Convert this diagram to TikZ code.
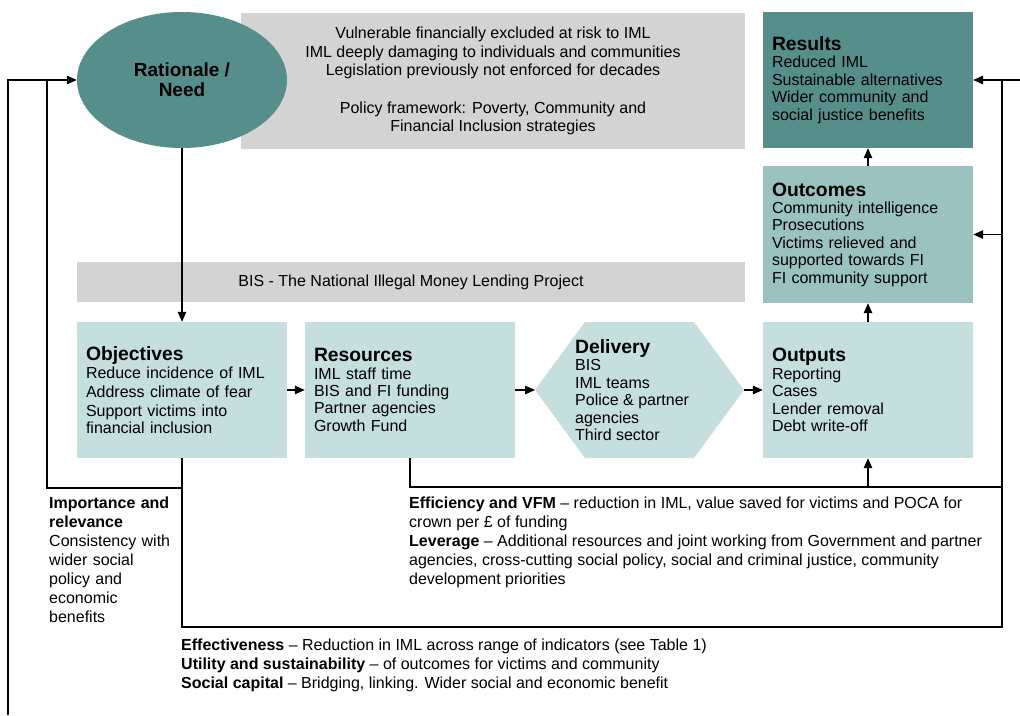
\documentclass[tikz,border=0pt]{standalone}
\usepackage{fontspec}
\setmainfont{Liberation Sans}
\usetikzlibrary{arrows.meta,shapes.geometric}
\definecolor{darkteal}{RGB}{86,142,140}
\definecolor{midteal}{RGB}{153,194,193}
\definecolor{lightteal}{RGB}{197,222,222}
\definecolor{boxgray}{RGB}{211,211,211}
\newcommand{\bodyfont}{\fontsize{16}{17.4}\selectfont}
\newcommand{\headfont}{\fontsize{19.3}{19}\selectfont\bfseries}
\begin{document}
\begin{tikzpicture}[x=1pt,y=-1pt,
  box/.style={rectangle, minimum width=210pt, minimum height=136pt, inner xsep=9pt, inner ysep=0pt, text width=192pt, align=left, font=\bodyfont},
  graybox/.style={rectangle, fill=boxgray, inner sep=0pt, font=\bodyfont},
  arr/.style={line width=1.3pt, -{Triangle[length=10pt,width=8.5pt]}},
  ln/.style={line width=1.3pt},
  note/.style={anchor=north west, inner sep=0pt, align=left, font=\fontsize{16}{19}\selectfont}
]
\useasboundingbox (0,0) rectangle (1020,715);

% top gray box and ellipse
\node[graybox, minimum width=504pt, minimum height=136pt, align=center, font=\fontsize{16}{18.6}\selectfont] (context) at (493,81)
  {Vulnerable financially excluded at risk to IML\\
   IML deeply damaging to individuals and communities\\
   Legislation previously not enforced for decades\\[18.6pt]
   Policy framework: Poverty, Community and\\
   Financial Inclusion strategies};
\node[ellipse, fill=darkteal, minimum width=210pt, minimum height=136pt, inner sep=0pt, align=center, font=\fontsize{19}{20}\selectfont\bfseries] (rationale) at (182,80) {Rationale /\\Need};

% BIS bar
\node[graybox, minimum width=668pt, minimum height=40pt] (bis) at (411,282) {BIS - The National Illegal Money Lending Project};

% right column
\node[box, fill=darkteal] (results) at (868,80)
  {{\headfont Results}\\Reduced IML\\Sustainable alternatives\\Wider community and\\social justice benefits};
\node[box, fill=midteal, minimum height=137pt] (outcomes) at (868,234.5)
  {{\headfont Outcomes}\\Community intelligence\\Prosecutions\\Victims relieved and\\supported towards FI\\FI community support};

% middle row
\node[box, fill=lightteal] (objectives) at (182,390)
  {{\headfont Objectives}\\[-1pt]{\fontsize{16}{19}\selectfont Reduce incidence of IML\\Address climate of fear\\Support victims into\\financial inclusion}};
\node[box, fill=lightteal] (resources) at (410,390)
  {{\headfont Resources}\\IML staff time\\BIS and FI funding\\Partner agencies\\Growth Fund};
\node[box, fill=lightteal] (outputs) at (868,390)
  {{\headfont Outputs}\\Reporting\\Cases\\Lender removal\\Debt write-off};

% delivery hexagon
\coordinate (dW) at (535,390);
\coordinate (dE) at (744,390);
\fill[lightteal] (dW) -- (585,322) -- (694,322) -- (dE) -- (694,458) -- (585,458) -- cycle;
\node[anchor=west, inner sep=0pt, align=left, font=\bodyfont] (delivery) at (575,390)
  {{\headfont Delivery}\\BIS\\IML teams\\Police \& partner\\agencies\\Third sector};

% connectors
\coordinate (eR) at (1002,487);
\coordinate (cBL) at (182,627);
\coordinate (cBR) at (1002,627);
\coordinate (cTR) at (1002,80);
\coordinate (cTRx) at (1020,80);
\coordinate (iL) at (47,488);
\coordinate (oL) at (8,715);

\draw[arr] (rationale.south) -- (objectives.north);
\draw[arr] (objectives.east) -- (resources.west);
\draw[arr] (resources.east) -- (dW);
\draw[arr] (dE) -- (outputs.west);
\draw[arr] (outputs.north) -- (outcomes.south);
\draw[arr] (outcomes.north) -- (results.south);

\draw[ln] (resources.south) |- (eR);
\draw[arr] (outputs.south |- eR) -- (outputs.south);

\draw[ln] (objectives.south) -- (cBL) -- (cBR) -- (cTR) -- (cTRx);
\draw[arr] (cTR) -- (results.east);
\draw[arr] (cTR |- outcomes.east) -- (outcomes.east);

\draw[ln] (objectives.south |- iL) -- (iL) -- (iL |- rationale.west);
\draw[arr] (oL) |- (rationale.west);

% annotations
\node[note, text width=130pt] (importance) at (49,497)
  {\textbf{Importance and}\\\textbf{relevance}\\Consistency with\\wider social\\policy and\\economic\\benefits};
\node[note] (efficiency) at (409,497)
  {\textbf{Efficiency and VFM} -- reduction in IML, value saved for victims and POCA for\\
   crown per £ of funding\\
   \textbf{Leverage} -- Additional resources and joint working from Government and partner\\
   agencies, cross-cutting social policy, social and criminal justice, community\\
   development priorities};
\node[note] (effectiveness) at (181,639)
  {\textbf{Effectiveness} -- Reduction in IML across range of indicators (see Table 1)\\
   \textbf{Utility and sustainability} -- of outcomes for victims and community\\
   \textbf{Social capital} -- Bridging, linking. Wider social and economic benefit};
\end{tikzpicture}
\end{document}
